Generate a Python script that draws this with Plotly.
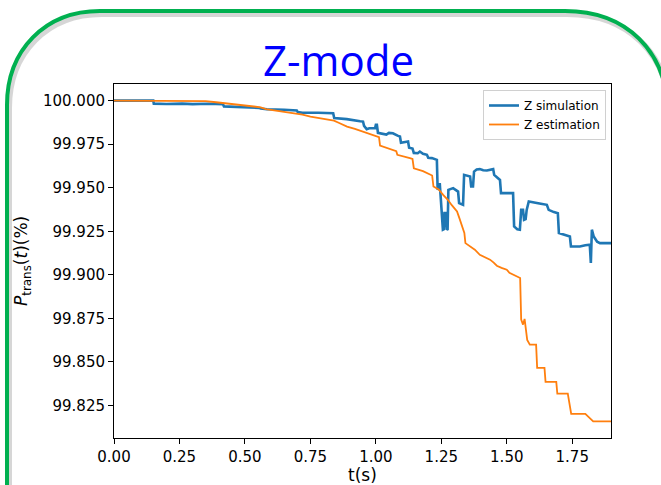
import plotly.graph_objects as go

# Time axis (s) and transmitted power (%) for the Z-mode run
sim_t = [0, 0.150, 0.152, 0.20, 0.26, 0.30, 0.36, 0.416, 0.420, 0.50, 0.556, 0.560,
         0.584, 0.65, 0.698, 0.702, 0.72, 0.78, 0.837, 0.841, 0.889, 0.94, 0.951,
         0.955, 0.965, 0.975, 0.997, 1.000, 1.004, 1.008, 1.04, 1.050, 1.065, 1.085,
         1.092, 1.096, 1.118, 1.123, 1.127, 1.140, 1.145, 1.160, 1.168, 1.180, 1.195,
         1.200, 1.214, 1.225, 1.233, 1.236, 1.240, 1.244, 1.248, 1.252, 1.256, 1.260,
         1.262, 1.268, 1.271, 1.274, 1.277, 1.295, 1.310, 1.314, 1.318, 1.333, 1.337,
         1.355, 1.360, 1.364, 1.371, 1.375, 1.385, 1.397, 1.410, 1.424, 1.440, 1.448,
         1.452, 1.474, 1.478, 1.500, 1.524, 1.528, 1.540, 1.550, 1.555, 1.562, 1.566,
         1.572, 1.576, 1.584, 1.600, 1.614, 1.630, 1.653, 1.660, 1.680, 1.695, 1.699,
         1.720, 1.741, 1.745, 1.779, 1.800, 1.817, 1.821, 1.825, 1.832, 1.845, 1.856,
         1.898]
sim_p = [100.0000, 100.0000, 99.9983, 99.9981, 99.9983, 99.9980, 99.9982, 99.9980,
         99.9967, 99.9964, 99.9958, 99.9955, 99.9951, 99.9948, 99.9944, 99.9934,
         99.9931, 99.9931, 99.9928, 99.9900, 99.9894, 99.9882, 99.9880, 99.9855,
         99.9836, 99.9842, 99.9842, 99.9861, 99.9861, 99.9815, 99.9805, 99.9815,
         99.9813, 99.9798, 99.9794, 99.9758, 99.9762, 99.9765, 99.9730, 99.9725,
         99.9700, 99.9698, 99.9708, 99.9695, 99.9689, 99.9672, 99.9670, 99.9664,
         99.9660, 99.9488, 99.9500, 99.9526, 99.9431, 99.9400, 99.9259, 99.9262,
         99.9354, 99.9354, 99.9259, 99.9262, 99.9488, 99.9498, 99.9480, 99.9478,
         99.9412, 99.9402, 99.9574, 99.9566, 99.9564, 99.9507, 99.9507, 99.9593,
         99.9605, 99.9607, 99.9600, 99.9599, 99.9607, 99.9607, 99.9574, 99.9545,
         99.9469, 99.9469, 99.9469, 99.9278, 99.9262, 99.9259, 99.9373, 99.9373,
         99.9316, 99.9320, 99.9373, 99.9421, 99.9415, 99.9412, 99.9408, 99.9402,
         99.9373, 99.9360, 99.9354, 99.9240, 99.9230, 99.9220, 99.9163, 99.9163,
         99.9170, 99.9173, 99.9068, 99.9259, 99.9220, 99.9190, 99.9182, 99.9182]

est_t = [0, 0.30, 0.35, 0.39, 0.45, 0.50, 0.56, 0.58, 0.63, 0.68, 0.72, 0.75, 0.80,
         0.84, 0.86, 0.89, 0.92, 0.95, 0.97, 1.00, 1.012, 1.016, 1.05, 1.065, 1.078,
         1.082, 1.11, 1.13, 1.14, 1.145, 1.18, 1.207, 1.215, 1.220, 1.24, 1.257,
         1.275, 1.29, 1.31, 1.318, 1.328, 1.338, 1.342, 1.36, 1.378, 1.397, 1.415,
         1.436, 1.45, 1.462, 1.48, 1.50, 1.51, 1.524, 1.535, 1.551, 1.555, 1.562,
         1.568, 1.578, 1.588, 1.612, 1.616, 1.644, 1.648, 1.689, 1.693, 1.733, 1.746,
         1.80, 1.83, 1.898]
est_p = [100.0000, 100.0000, 99.9997, 99.9991, 99.9981, 99.9972, 99.9962, 99.9952,
         99.9942, 99.9931, 99.9920, 99.9908, 99.9897, 99.9885, 99.9872, 99.9851,
         99.9838, 99.9822, 99.9808, 99.9792, 99.9790, 99.9742, 99.9725, 99.9717,
         99.9710, 99.9689, 99.9680, 99.9670, 99.9665, 99.9612, 99.9595, 99.9574,
         99.9570, 99.9507, 99.9490, 99.9459, 99.9431, 99.9400, 99.9364, 99.9330,
         99.9287, 99.9240, 99.9182, 99.9165, 99.9144, 99.9115, 99.9100, 99.9087,
         99.9070, 99.9052, 99.9040, 99.9029, 99.9012, 99.9001, 99.8990, 99.8982,
         99.8743, 99.8714, 99.8747, 99.8626, 99.8599, 99.8599, 99.8466, 99.8466,
         99.8385, 99.8385, 99.8318, 99.8318, 99.8202, 99.8202, 99.8159, 99.8159]

x_ticks = [0.00, 0.25, 0.50, 0.75, 1.00, 1.25, 1.50, 1.75]
y_ticks = [99.825, 99.850, 99.875, 99.900, 99.925, 99.950, 99.975, 100.000]

W, H = 661, 485
PL, PR, PT, PB = 114, 611, 84, 438  # plot area in pixels


def px(x):
    return (x - PL) / (PR - PL)


def py(y):
    return (PB - y) / (PB - PT)


def frame_path(dx=0.0, dy=0.0):
    l, r, t, b = 7 + dx, 668 + dx, 11 + dy, 500 + dy
    return (f"M {px(l)},{py(b)} L {px(l)},{py(105 + dy)} "
            f"C {px(l)},{py(50 + dy)} {px(45 + dx)},{py(t)} {px(100 + dx)},{py(t)} "
            f"L {px(565 + dx)},{py(t)} "
            f"C {px(625 + dx)},{py(t)} {px(r)},{py(50 + dy)} {px(r)},{py(115 + dy)} "
            f"L {px(r)},{py(b)}")


fig = go.Figure()
fig.add_trace(go.Scatter(x=sim_t, y=sim_p, mode="lines", name="Z simulation",
                         line=dict(color="#1f77b4", width=2.6)))
fig.add_trace(go.Scatter(x=est_t, y=est_p, mode="lines", name="Z estimation",
                         line=dict(color="#ff7f0e", width=1.8)))

shapes = [
    dict(type="path", xref="paper", yref="paper", path=frame_path(2, 3),
         line=dict(color="rgba(0,0,0,0.16)", width=6), layer="below"),
    dict(type="path", xref="paper", yref="paper", path=frame_path(),
         line=dict(color="#00b050", width=4), layer="above"),
]

annotations = [
    dict(text="Z-mode", x=px(338), y=py(60), xref="paper", yref="paper",
         xanchor="center", yanchor="middle", showarrow=False,
         font=dict(family="Open Sans", size=42, color="#0000ff")),
    dict(text="<i>P</i><sub>trans</sub>(<i>t</i>)(%)", x=px(22), y=py(261),
         xref="paper", yref="paper", xanchor="center", yanchor="middle",
         textangle=-90, showarrow=False,
         font=dict(family="DejaVu Sans", size=17, color="black")),
    dict(text="t(s)", x=px(362), y=py(475), xref="paper", yref="paper",
         xanchor="center", yanchor="middle", showarrow=False,
         font=dict(family="DejaVu Sans", size=17, color="black")),
]

axis_common = dict(showline=True, linecolor="black", linewidth=1, mirror=True,
                   ticks="outside", ticklen=5, tickwidth=1, tickcolor="black",
                   showgrid=False, zeroline=False,
                   tickfont=dict(family="DejaVu Sans", size=15, color="black"))

fig.update_layout(
    width=W, height=H,
    margin=dict(l=PL, r=W - PR, t=PT, b=H - PB, pad=0),
    paper_bgcolor="white", plot_bgcolor="white",
    showlegend=True,
    legend=dict(x=px(606), y=py(90), xanchor="right", yanchor="top",
                bgcolor="white", bordercolor="#d0d0d0", borderwidth=1,
                font=dict(family="DejaVu Sans", size=12, color="black"),
                itemwidth=30, tracegroupgap=0),
    xaxis=dict(range=[0, 1.898], tickvals=x_ticks,
               ticktext=[f"{v:.2f}" for v in x_ticks], **axis_common),
    yaxis=dict(range=[99.8063, 100.00957], tickvals=y_ticks,
               ticktext=[f"{v:.3f}" for v in y_ticks], **axis_common),
    shapes=shapes,
    annotations=annotations,
)

fig.write_html("out.html")
